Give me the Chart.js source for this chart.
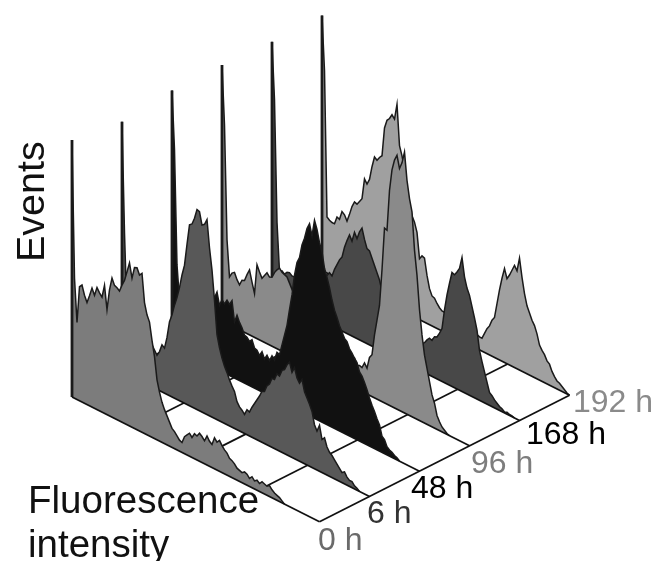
<!DOCTYPE html>
<html>
<head>
<meta charset="utf-8">
<style>
html, body { margin: 0; padding: 0; background: #fff; overflow: hidden; }
canvas { display: block; filter: blur(0.45px); }
</style>
<script src="https://cdn.jsdelivr.net/npm/chart.js@4/dist/chart.umd.min.js"></script>
</head>
<body>
<canvas id="chart" width="655" height="561"></canvas>
<script>
// time points, front to back
var timeLabels = ['0 h', '6 h', '48 h', '96 h', '168 h', '192 h'];
var yTitle = 'Events';
var xTitle = ['Fluorescence', 'intensity'];

// events per fluorescence channel
var events0h = [257,120,77,114,117,108,102,110,119,113,122,118,115,128,105,126,139,133,132,130,137,143,153,163,149,161,162,156,159,131,120,114,97,82,60,49,40,34,29,24,19,17,14,11,10,17,20,23,20,25,24,28,26,23,29,25,23,31,28,31,27,24,22,18,17,15,12,11,10,12,11,8,11,8,10,8,11,10,9,11,8,6,5,4,2,0];
var events6h = [250,140,60,56,55,53,50,51,47,48,45,46,42,38,34,39,47,45,57,74,82,93,102,113,127,138,160,181,183,190,200,199,187,189,195,168,147,118,85,73,64,57,52,46,41,37,28,24,22,19,25,24,30,35,40,45,51,52,59,62,69,69,76,75,82,84,90,94,85,91,82,78,83,72,67,62,56,44,39,46,33,36,28,24,22,19,16,13,10,12,8,6,6,3,2,0];
var events48h = [256,198,84,50,53,53,58,58,62,61,65,64,68,67,71,69,74,70,77,65,72,69,74,71,76,56,64,58,54,48,47,44,47,40,39,35,40,34,39,35,41,38,47,46,57,68,79,96,112,133,147,153,167,175,186,192,181,198,190,178,170,155,147,138,127,118,112,105,100,95,93,87,84,80,77,69,66,61,55,48,42,37,31,26,16,14,8,6,5,3,2,0];
var events96h = [256,197,84,48,53,55,49,45,51,52,59,65,54,44,74,68,63,67,71,68,69,75,79,82,79,78,77,72,67,62,60,58,60,55,52,50,46,44,40,38,35,33,30,28,28,26,25,24,25,25,25,28,30,30,24,25,24,30,26,38,42,63,79,95,132,175,174,215,237,248,254,242,249,261,234,217,205,168,144,111,87,68,56,44,32,25,14,9,5,3,1,0];
var events168h = [254,197,76,28,30,28,31,32,30,30,28,30,33,32,35,34,38,36,40,40,42,45,48,52,50,58,64,70,74,85,93,100,95,105,100,108,113,103,95,94,88,82,76,70,60,50,45,40,36,34,32,32,30,30,28,30,30,28,30,32,28,30,34,37,36,41,42,47,53,73,89,102,114,113,117,122,134,116,106,100,90,80,69,50,40,31,22,13,11,8,6,4,3,1,2,1,1,0];
var events192h = [255,201,56,54,53,53,61,60,69,67,62,70,79,85,84,88,92,113,109,115,129,140,138,142,145,174,183,186,191,188,204,164,155,142,123,109,100,95,86,61,65,64,48,36,30,29,25,22,20,20,18,20,18,20,18,20,18,18,17,18,16,15,14,13,13,19,25,29,36,40,55,70,83,94,85,90,96,102,98,112,94,79,68,62,56,52,45,35,31,28,23,21,15,11,8,7,5,3,1,0];

var allEvents = [events0h, events6h, events48h, events96h, events168h, events192h];
var fillColors = ['#7c7c7c', '#585858', '#111111', '#8a8a8a', '#484848', '#a0a0a0'];
var labelColors = ['#6a6a6a', '#333333', '#000000', '#7d7d7d', '#000000', '#8a8a8a'];
var gridFractions = [0, 0.25, 0.5, 0.75, 1];

// oblique projection of (channel, time step, events) on the page
var channelCount = 100;
function project(channel, step, value) {
    return {
        x: 72 + channel * 2.5 + step * 50,
        y: 397 + channel * 1.26 - step * 25.3 - value
    };
}

var datasets = [];

// front series first: chart.js paints the list from last to first
allEvents.forEach(function(values, step) {
    datasets.push({
        data: [project(0, step, 0), project(channelCount - 1, step, 0)],
        borderColor: '#111',
        borderWidth: 1.7,
        pointRadius: 0
    });
    var outline = [project(0, step, 0)];
    values.forEach(function(v, channel) {
        outline.push(project(channel, step, v));
    });
    datasets.push({
        data: outline,
        borderColor: '#1a1a1a',
        borderWidth: 1.5,
        backgroundColor: fillColors[step],
        fill: '-1',
        pointRadius: 0,
        // the first channel is the tall narrow bar
        segment: {
            borderWidth: function(ctx) { return ctx.p0DataIndex === 0 ? 2.8 : undefined; }
        }
    });
});

// floor lines across the time axis
gridFractions.forEach(function(f) {
    var channel = f * (channelCount - 1);
    datasets.push({
        data: [project(channel, 0, 0), project(channel, timeLabels.length - 1, 0)],
        borderColor: '#111',
        borderWidth: 1.7,
        pointRadius: 0
    });
});

var textPlugin = {
    id: 'textPlugin',
    afterDraw: function(chart) {
        var ctx = chart.ctx;
        ctx.save();
        ctx.textBaseline = 'alphabetic';
        ctx.textAlign = 'left';

        ctx.font = '32px "Liberation Sans"';
        var labelX = [318, 367, 411, 471, 526, 573];
        var labelY = [550, 523, 498, 473, 444, 412];
        timeLabels.forEach(function(t, i) {
            ctx.fillStyle = labelColors[i];
            ctx.fillText(t, labelX[i], labelY[i]);
        });

        ctx.fillStyle = '#111';
        ctx.font = '38.5px "Liberation Sans"';
        ctx.fillText(xTitle[0], 28, 513);
        ctx.fillText(xTitle[1], 28, 557);

        ctx.font = '39.5px "Liberation Sans"';
        ctx.translate(44, 262);
        ctx.rotate(-Math.PI / 2);
        ctx.fillText(yTitle, 0, 0);
        ctx.restore();
    }
};

new Chart(document.getElementById('chart').getContext('2d'), {
    type: 'scatter',
    data: { datasets: datasets },
    options: {
        responsive: false,
        animation: false,
        showLine: true,
        layout: { padding: 0 },
        elements: { line: { tension: 0, borderJoinStyle: 'miter' } },
        plugins: { legend: { display: false }, tooltip: { enabled: false }, title: { display: false } },
        scales: {
            x: { type: 'linear', display: false, min: 0, max: 655 },
            y: { type: 'linear', display: false, min: 0, max: 561, reverse: true }
        }
    },
    plugins: [textPlugin]
});
</script>
</body>
</html>
